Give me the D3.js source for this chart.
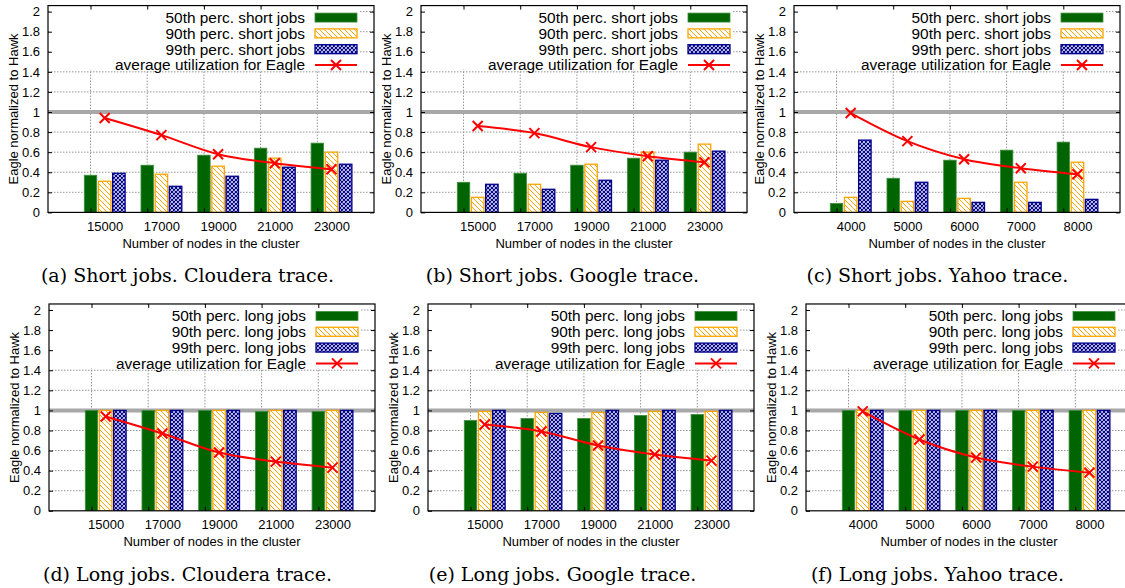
<!DOCTYPE html>
<html>
<head>
<meta charset="utf-8">
<script src="https://cdn.jsdelivr.net/npm/d3@7"></script>
<style>
  body { margin: 0; background: #fff; }
  svg { display: block; }
  text { font-family: "Liberation Sans", Arial, sans-serif; fill: #000; }
  .caption { font-family: "DejaVu Serif", "Liberation Serif", serif; }
</style>
</head>
<body>
<svg id="fig" width="1125" height="588"></svg>
<script>
// ---- data ----
const clusterNodes = ["15000", "17000", "19000", "21000", "23000"];
const yahooNodes = ["4000", "5000", "6000", "7000", "8000"];
const yTicks = [0, 0.2, 0.4, 0.6, 0.8, 1, 1.2, 1.4, 1.6, 1.8, 2];

// short jobs, Eagle normalized to Hawk
const clouderaShort50 = [0.37, 0.47, 0.57, 0.64, 0.69];
const clouderaShort90 = [0.31, 0.38, 0.46, 0.54, 0.60];
const clouderaShort99 = [0.39, 0.26, 0.36, 0.45, 0.48];
const googleShort50 = [0.30, 0.39, 0.47, 0.54, 0.60];
const googleShort90 = [0.15, 0.28, 0.48, 0.60, 0.68];
const googleShort99 = [0.28, 0.23, 0.32, 0.52, 0.61];
const yahooShort50 = [0.09, 0.34, 0.52, 0.62, 0.70];
const yahooShort90 = [0.15, 0.11, 0.14, 0.30, 0.50];
const yahooShort99 = [0.72, 0.30, 0.10, 0.10, 0.13];

// long jobs, Eagle normalized to Hawk
const clouderaLong50 = [1.00, 1.00, 1.00, 0.99, 0.99];
const clouderaLong90 = [1.00, 1.00, 1.00, 1.00, 1.00];
const clouderaLong99 = [1.00, 1.00, 1.00, 1.00, 1.00];
const googleLong50 = [0.90, 0.92, 0.92, 0.95, 0.96];
const googleLong90 = [0.99, 0.98, 0.98, 0.99, 0.99];
const googleLong99 = [1.00, 0.97, 1.00, 1.00, 1.00];
const yahooLong50 = [1.00, 1.00, 1.00, 1.00, 1.00];
const yahooLong90 = [1.00, 1.00, 1.00, 1.00, 1.00];
const yahooLong99 = [1.00, 1.00, 1.00, 1.00, 1.00];

// average utilization for Eagle
const clouderaUtil = [0.94, 0.77, 0.58, 0.49, 0.43];
const googleUtil = [0.86, 0.79, 0.65, 0.56, 0.50];
const yahooUtil = [0.99, 0.71, 0.53, 0.44, 0.38];

const shortLabels = ["50th perc. short jobs", "90th perc. short jobs", "99th perc. short jobs", "average utilization for Eagle"];
const longLabels = ["50th perc. long jobs", "90th perc. long jobs", "99th perc. long jobs", "average utilization for Eagle"];
const captions = [
  "(a) Short jobs. Cloudera trace.", "(b) Short jobs. Google trace.", "(c) Short jobs. Yahoo trace.",
  "(d) Long jobs. Cloudera trace.", "(e) Long jobs. Google trace.", "(f) Long jobs. Yahoo trace."
];

// ---- panels ----
const panels = [
  { left: 48,  zero: 212.4, cats: clusterNodes, bars: [clouderaShort50, clouderaShort90, clouderaShort99], util: clouderaUtil, labels: shortLabels, cap: captions[0], capX: 187.5 },
  { left: 421, zero: 212.4, cats: clusterNodes, bars: [googleShort50, googleShort90, googleShort99], util: googleUtil, labels: shortLabels, cap: captions[1], capX: 562.5 },
  { left: 794, zero: 212.4, cats: yahooNodes,   bars: [yahooShort50, yahooShort90, yahooShort99], util: yahooUtil, labels: shortLabels, cap: captions[2], capX: 937.5 },
  { left: 49,  zero: 510.8, cats: clusterNodes, bars: [clouderaLong50, clouderaLong90, clouderaLong99], util: clouderaUtil, labels: longLabels, cap: captions[3], capX: 187.5 },
  { left: 428, zero: 510.8, cats: clusterNodes, bars: [googleLong50, googleLong90, googleLong99], util: googleUtil, labels: longLabels, cap: captions[4], capX: 562.5 },
  { left: 806, zero: 510.8, cats: yahooNodes,   bars: [yahooLong50, yahooLong90, yahooLong99], util: yahooUtil, labels: longLabels, cap: captions[5], capX: 937.5 }
];

const svg = d3.select("#fig");
const defs = svg.append("defs");

// diagonal hatch for the 90th percentile
const hatch = defs.append("pattern").attr("id", "hatch")
  .attr("patternUnits", "userSpaceOnUse").attr("width", 5).attr("height", 5);
hatch.append("rect").attr("width", 5).attr("height", 5).attr("fill", "#fff");
hatch.append("path").attr("d", "M-1,-1L6,6M-1,4L1,6M4,-1L6,1")
  .attr("stroke", "#ffa500").attr("stroke-width", 1);

// crosshatch for the 99th percentile
const cross = defs.append("pattern").attr("id", "cross")
  .attr("patternUnits", "userSpaceOnUse").attr("width", 4).attr("height", 4);
cross.append("rect").attr("width", 4).attr("height", 4).attr("fill", "#fff");
cross.append("path").attr("d", "M-1,-1L5,5M-1,3L1,5M3,-1L5,1M5,-1L-1,5M1,-1L-1,1M5,3L3,5")
  .attr("stroke", "#00008b").attr("stroke-width", 1.2);

const barStyles = [
  { fill: "#006400", stroke: "#3f8f3f", sw: 0.8 },
  { fill: "url(#hatch)", stroke: "#ffa500", sw: 1.3 },
  { fill: "url(#cross)", stroke: "#00008b", sw: 1.3 }
];

const PW = 326;          // plot width
const YMAX = 2.06;
const PX_PER_UNIT = 100.4;

function xMark(g, cx, cy, r) {
  g.append("path")
    .attr("d", `M${cx - r},${cy - r}L${cx + r},${cy + r}M${cx - r},${cy + r}L${cx + r},${cy - r}`)
    .attr("stroke", "#ff0000").attr("stroke-width", 2).attr("fill", "none");
}

panels.forEach(p => {
  const top = p.zero - YMAX * PX_PER_UNIT;
  const x = d3.scaleLinear().domain([-3, 20]).range([p.left, p.left + PW]);
  const y = d3.scaleLinear().domain([0, YMAX]).range([p.zero, top]);
  const g = svg.append("g");
  const clipId = "clip" + p.left + "_" + Math.round(p.zero);
  defs.append("clipPath").attr("id", clipId).append("rect")
    .attr("x", p.left).attr("y", top).attr("width", PW).attr("height", p.zero - top);
  const plot = g.append("g").attr("clip-path", `url(#${clipId})`);

  const groupPos = p.cats.map((c, i) => 4 * i);

  // grid
  plot.selectAll(".hg").data(yTicks.filter(t => t > 0)).join("line")
    .attr("x1", p.left).attr("x2", p.left + PW)
    .attr("y1", d => y(d)).attr("y2", d => y(d))
    .attr("stroke", "#8a8a8a").attr("stroke-width", 0.9).attr("stroke-dasharray", "1.5,1.5");
  plot.selectAll(".vg").data(groupPos).join("line")
    .attr("x1", d => x(d)).attr("x2", d => x(d))
    .attr("y1", top).attr("y2", p.zero)
    .attr("stroke", "#8a8a8a").attr("stroke-width", 0.9).attr("stroke-dasharray", "1.5,1.5");

  // opaque key background
  plot.append("rect").attr("x", p.left + 1).attr("y", top + 1)
    .attr("width", 311).attr("height", 63).attr("fill", "#fff");

  // reference level (Hawk = 1)
  plot.append("line").attr("x1", p.left).attr("x2", p.left + PW)
    .attr("y1", y(1)).attr("y2", y(1))
    .attr("stroke", "#a8a8a8").attr("stroke-width", 4);

  // bars
  p.bars.forEach((vals, j) => {
    const st = barStyles[j];
    plot.selectAll(".b" + j).data(vals).join("rect")
      .attr("x", (d, i) => x(4 * i + j - 0.44))
      .attr("width", x(0.88) - x(0))
      .attr("y", d => y(d))
      .attr("height", d => y(0) - y(d))
      .attr("fill", st.fill).attr("stroke", st.stroke).attr("stroke-width", st.sw);
  });

  // utilization line
  const line = d3.line().x((d, i) => x(4 * i + 1)).y(d => y(d)).curve(d3.curveMonotoneX);
  plot.append("path").datum(p.util).attr("d", line)
    .attr("fill", "none").attr("stroke", "#ff0000").attr("stroke-width", 2);
  p.util.forEach((d, i) => xMark(plot, x(4 * i + 1), y(d), 5));

  // axes
  const yAxis = d3.axisLeft(y).tickValues(yTicks).tickSize(-4).tickPadding(8)
    .tickFormat(d => String(+d.toFixed(1)));
  g.append("g").attr("transform", `translate(${p.left},0)`).call(yAxis);
  g.append("g").attr("transform", `translate(${p.left + PW},0)`)
    .call(d3.axisRight(y).tickValues(yTicks).tickSize(-4).tickFormat(""));
  const xLab = d3.axisBottom(x).tickValues(groupPos.map(v => v + 1)).tickSize(0).tickPadding(9)
    .tickFormat((d, i) => p.cats[i]);
  g.append("g").attr("transform", `translate(0,${p.zero})`).call(xLab);
  g.append("g").attr("transform", `translate(0,${p.zero})`)
    .call(d3.axisBottom(x).tickValues(groupPos).tickSize(-4).tickFormat(""));
  g.append("g").attr("transform", `translate(0,${top})`)
    .call(d3.axisTop(x).tickValues(groupPos).tickSize(-4).tickFormat(""));
  g.selectAll(".domain").remove();
  g.selectAll(".tick line").attr("stroke", "#000").attr("stroke-width", 1);
  g.selectAll(".tick text").style("font-family", "'Liberation Sans', Arial, sans-serif")
    .style("font-size", "13px").attr("fill", "#000");

  // frame
  g.append("rect").attr("x", p.left).attr("y", top).attr("width", PW).attr("height", p.zero - top)
    .attr("fill", "none").attr("stroke", "#000").attr("stroke-width", 1.2);

  // axis titles
  g.append("text").attr("transform", `translate(${p.left - 35},${(top + p.zero) / 2}) rotate(-90)`)
    .attr("text-anchor", "middle").attr("dominant-baseline", "central")
    .style("font-size", "13px").text("Eagle normalized to Hawk");
  g.append("text").attr("x", p.left + PW / 2).attr("y", p.zero + 31)
    .attr("text-anchor", "middle").attr("dominant-baseline", "central")
    .style("font-size", "13px").text("Number of nodes in the cluster");

  // key
  const keyTextX = p.left + 257;
  const keyS0 = p.left + 267, keyS1 = p.left + 309;
  p.labels.forEach((lab, k) => {
    const ry = top + 12 + k * 15.8;
    g.append("text").attr("x", keyTextX).attr("y", ry)
      .attr("text-anchor", "end").attr("dominant-baseline", "central")
      .style("font-size", "15.4px").text(lab);
    if (k < 3) {
      const st = barStyles[k];
      g.append("rect").attr("x", keyS0).attr("y", ry - 4.5).attr("width", keyS1 - keyS0).attr("height", 9)
        .attr("fill", st.fill).attr("stroke", st.stroke).attr("stroke-width", st.sw);
    } else {
      g.append("line").attr("x1", keyS0).attr("x2", keyS1).attr("y1", ry).attr("y2", ry)
        .attr("stroke", "#ff0000").attr("stroke-width", 2);
      xMark(g, (keyS0 + keyS1) / 2, ry, 5);
    }
  });

  // caption
  g.append("text").attr("class", "caption").attr("x", p.capX).attr("y", p.zero + 63)
    .attr("text-anchor", "middle").attr("dominant-baseline", "central")
    .style("font-size", "19px").text(p.cap);
});
</script>
</body>
</html>
